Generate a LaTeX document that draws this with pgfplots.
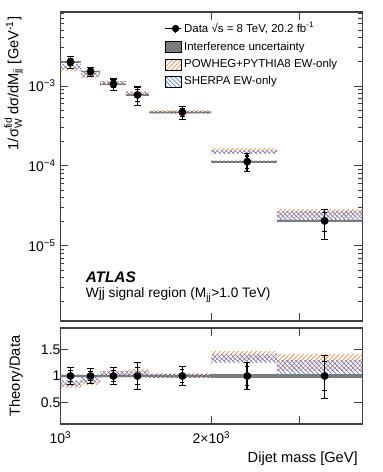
\documentclass[border=0pt]{standalone}
\usepackage{fontspec}
\setmainfont{Liberation Sans}
\usepackage{amsmath}
\usepackage{pgfplots}
\pgfplotsset{compat=1.18}
\usepackage{pgfplotstable}
\usetikzlibrary{patterns,patterns.meta}

\definecolor{powcol}{RGB}{245,135,60}
\definecolor{shecol}{RGB}{80,120,225}

% bands per bin: POWHEG (pl,ph), SHERPA (sl,sh), interference (il,ih)
\pgfplotstableread{
xlo  xhi  pl      ph      sl      sh      il      ih
1000 1100 1.56e-3 1.76e-3 1.64e-3 1.84e-3 1.96e-3 2.04e-3
1100 1200 1.27e-3 1.42e-3 1.31e-3 1.46e-3 1.48e-3 1.54e-3
1200 1350 1.05e-3 1.13e-3 1.06e-3 1.14e-3 1.03e-3 1.07e-3
1350 1500 7.93e-4 8.62e-4 7.85e-4 8.39e-4 7.55e-4 7.85e-4
1500 2000 4.55e-4 4.88e-4 4.55e-4 4.83e-4 4.60e-4 4.78e-4
2000 2700 1.47e-4 1.66e-4 1.41e-4 1.58e-4 1.10e-4 1.16e-4
2700 4000 2.26e-5 2.87e-5 2.15e-5 2.67e-5 1.99e-5 2.11e-5
}\topbands

\pgfplotstableread{
xlo  xhi  pl   ph   sl   sh   il   ih
1000 1100 0.78 0.88 0.82 0.92 0.98 1.02
1100 1200 0.84 0.94 0.87 0.97 0.98 1.02
1200 1350 1.00 1.08 1.01 1.09 0.98 1.02
1350 1500 1.03 1.12 1.02 1.09 0.98 1.02
1500 2000 0.97 1.04 0.97 1.03 0.98 1.02
2000 2700 1.30 1.47 1.25 1.40 0.97 1.03
2700 4000 1.10 1.40 1.05 1.30 0.97 1.03
}\ratbands

\pgfplotstableread{
x    y       ep     em     st      r rep  rem  rst
1047 2.00e-3 3.4e-4 3.4e-4 2.0e-4  1 0.17 0.17 0.10
1148 1.51e-3 2.1e-4 2.1e-4 1.36e-4 1 0.14 0.14 0.09
1275 1.05e-3 1.7e-4 1.7e-4 1.05e-4 1 0.16 0.16 0.10
1424 7.70e-4 2.0e-4 2.0e-4 1.3e-4  1 0.26 0.26 0.17
1750 4.69e-4 8.4e-5 8.4e-5 5.6e-5  1 0.18 0.18 0.12
2357 1.13e-4 2.9e-5 2.9e-5 2.0e-5  1 0.26 0.26 0.18
3362 2.05e-5 7.8e-6 8.6e-6 5.5e-6  1 0.38 0.42 0.27
}\meas

\tikzset{
  powfill/.style={pattern={Lines[angle=45,distance=2.4pt,line width=0.55pt]}, pattern color=powcol},
  shefill/.style={pattern={Lines[angle=-45,distance=2.4pt,line width=0.55pt]}, pattern color=shecol},
  intfill/.style={preaction={fill=black!45}, pattern=crosshatch dots, pattern color=black},
}

% one filled rectangle per bin: #1 table, #2 low column, #3 high column, #4 style
\newcommand\bandrects[4]{%
  \pgfplotsforeachungrouped \i in {0,...,6}{%
    \pgfplotstablegetelem{\i}{xlo}\of#1\let\xa\pgfplotsretval
    \pgfplotstablegetelem{\i}{xhi}\of#1\let\xb\pgfplotsretval
    \pgfplotstablegetelem{\i}{#2}\of#1\let\ya\pgfplotsretval
    \pgfplotstablegetelem{\i}{#3}\of#1\let\yb\pgfplotsretval
    \edef\doit{\noexpand\addplot[forget plot, draw=none, #4]
      coordinates {(\xa,\ya)(\xb,\ya)(\xb,\yb)(\xa,\yb)};}%
    \doit
  }%
}
\newcommand\allbands[1]{%
  \bandrects{#1}{pl}{ph}{powfill}%
  \bandrects{#1}{sl}{sh}{shefill}%
  \bandrects{#1}{il}{ih}{intfill}%
}

\begin{document}
\begin{tikzpicture}
\begin{axis}[name=top, scale only axis, width=226.5pt, height=231.75pt,
  xmode=log, ymode=log, xmin=1000, xmax=4000, ymin=1.15e-6, ymax=8.4e-3,
  tick align=inside, major tick length=6pt, minor tick length=3pt,
  axis line style={black!75, line width=0.8pt},
  tick style={black!75, line width=0.6pt},
  tick label style={font=\fontsize{10.5}{12}\selectfont},
  xtick={1000,2000,3000}, xticklabels={},
  ytick={1e-5,1e-4,1e-3},
  yticklabels={10\textsuperscript{\textminus5},10\textsuperscript{\textminus4},10\textsuperscript{\textminus3}},
  minor ytick={2e-6,3e-6,4e-6,5e-6,6e-6,7e-6,8e-6,9e-6,
    2e-5,3e-5,4e-5,5e-5,6e-5,7e-5,8e-5,9e-5,
    2e-4,3e-4,4e-4,5e-4,6e-4,7e-4,8e-4,9e-4,
    2e-3,3e-3,4e-3,5e-3,6e-3,7e-3,8e-3},
  ylabel={$\text{1/σ}^{\text{fid}}_{\text{W}}\,\text{dσ/dM}_{\text{jj}}$ [GeV$^{\text{-1}}$]},
  ylabel style={font=\fontsize{11}{13}\selectfont, at={(axis description cs:-0.109,1)}, anchor=south east},
  legend cell align=left,
  legend style={draw=none, fill=none, at={(axis description cs:0.33,0.985)}, anchor=north west,
    font=\fontsize{8.6}{10}\selectfont, row sep=1.3pt},
]
\allbands{\topbands}
\addplot[forget plot, only marks, mark=*, mark size=2.7pt, black,
  error bars/.cd, y dir=both, y explicit,
  error bar style={line width=1.2pt, black},
  error mark options={rotate=90, mark size=2.4pt, line width=0.8pt, black}]
  table[x=x, y=y, y error plus=ep, y error minus=em]{\meas};
\addplot[forget plot, only marks, mark=none, black,
  error bars/.cd, y dir=both, y explicit,
  error bar style={line width=1.2pt, black},
  error mark options={rotate=90, mark size=1.6pt, line width=0.8pt, black}]
  table[x=x, y=y, y error plus=st, y error minus=st]{\meas};
\addlegendimage{legend image code/.code={
  \draw[black, line width=0.8pt] (0pt,0pt) -- (12pt,0pt);
  \draw[black, line width=1pt] (8pt,-3pt) -- (8pt,3pt);
  \fill[black] (8pt,0pt) circle (2.5pt);}}
\addlegendentry{Data √s = 8 TeV, 20.2 fb\textsuperscript{-1}}
\addlegendimage{legend image code/.code={\fill[intfill] (0pt,-4pt) rectangle (12pt,4pt);}}
\addlegendentry{Interference uncertainty}
\addlegendimage{legend image code/.code={\fill[powfill] (0pt,-4pt) rectangle (12pt,4pt);}}
\addlegendentry{POWHEG+PYTHIA8 EW-only}
\addlegendimage{legend image code/.code={\fill[shefill] (0pt,-4pt) rectangle (12pt,4pt);}}
\addlegendentry{SHERPA EW-only}
\node[anchor=base west, inner sep=0pt, font=\bfseries\itshape\fontsize{11.5}{13}\selectfont] at (axis description cs:0.083,0.125) {ATLAS};
\node[anchor=base west, inner sep=0pt, font=\fontsize{10.3}{12}\selectfont] at (axis description cs:0.083,0.075) {Wjj signal region (M\textsubscript{jj}>1.0 TeV)};
\end{axis}
\begin{axis}[name=bot, at={(top.south west)}, anchor=north west, yshift=-5.25pt,
  scale only axis, width=226.5pt, height=72pt,
  xmode=log, xmin=1000, xmax=4000, ymin=0.09, ymax=1.91,
  tick align=inside, major tick length=6pt, minor tick length=3pt,
  axis line style={black!75, line width=0.8pt},
  tick style={black!75, line width=0.6pt},
  tick label style={font=\fontsize{10.5}{12}\selectfont},
  yticklabel shift=-3.5pt, xticklabel shift=2pt,
  /pgf/number format/assume math mode=true,
  xtick={1000,2000,3000},
  xticklabels={10\textsuperscript{3},2×10\textsuperscript{3},{}},
  ytick={0.5,1,1.5}, yticklabels={0.5,1,1.5},
  xlabel={Dijet mass [GeV]},
  xlabel style={font=\fontsize{11}{13}\selectfont, at={(axis description cs:1,0)}, anchor=north east, yshift=-17.5pt},
  ylabel={Theory/Data},
  ylabel style={font=\fontsize{11}{13}\selectfont, at={(axis description cs:-0.109,0.5)}, anchor=south},
]
\allbands{\ratbands}
\addplot[only marks, mark=*, mark size=2.7pt, black,
  error bars/.cd, y dir=both, y explicit,
  error bar style={line width=1.2pt, black},
  error mark options={rotate=90, mark size=2.4pt, line width=0.8pt, black}]
  table[x=x, y=r, y error plus=rep, y error minus=rem]{\meas};
\addplot[only marks, mark=none, black,
  error bars/.cd, y dir=both, y explicit,
  error bar style={line width=1.2pt, black},
  error mark options={rotate=90, mark size=1.6pt, line width=0.8pt, black}]
  table[x=x, y=r, y error plus=rst, y error minus=rst]{\meas};
\end{axis}
\path (top.north west) ++(-45pt,9pt) coordinate (a);
\path (bot.south east) ++(15pt,-36pt) coordinate (b);
\path (a) rectangle (b);
\end{tikzpicture}
\end{document}
